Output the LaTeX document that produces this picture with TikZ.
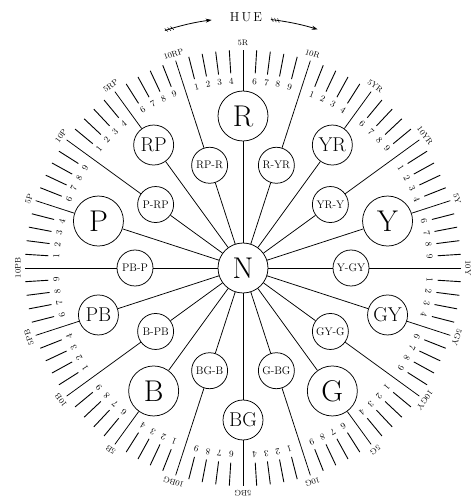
\documentclass[tikz,border=0pt]{standalone}
\usetikzlibrary{arrows.meta,calc}
\begin{document}
\begin{tikzpicture}[x=1pt,y=1pt,line width=0.75pt,
  bigc/.style={circle,draw,minimum size=50pt,inner sep=0pt,font=\fontsize{30}{30}\selectfont},
  midc/.style={circle,draw,minimum size=40pt,inner sep=0pt,font=\fontsize{20}{20}\selectfont},
  smallc/.style={circle,draw,minimum size=36pt,inner sep=0pt,font=\fontsize{11}{11}\selectfont},
  num/.style={font=\fontsize{9}{9}\selectfont,inner sep=0pt},
  lab/.style={font=\fontsize{8}{8}\selectfont,inner sep=0pt},
  tick/.style={line width=0.9pt},
  huearrow/.style={-{Stealth[length=6pt,width=4pt]},line width=0.8pt}]
\useasboundingbox (0,0) rectangle (472,499);
\coordinate (O) at (243,231);
\node[bigc] (N) at (O) {N};
\foreach \hn/\nx/\st [count=\i from 0] in {R/YR/bigc,YR/Y/midc,Y/GY/bigc,GY/G/midc,G/BG/bigc,BG/B/midc,B/PB/bigc,PB/P/midc,P/RP/bigc,RP/R/midc}{
  \pgfmathsetmacro\a{90-36*\i}
  \pgfmathsetmacro\b{\a-18}
  \node[\st] (H\i) at ($(O)+(\a:152)$) {\hn};
  \node[smallc] (I\i) at ($(O)+(\b:108)$) {\hn-\nx};
  \coordinate (HE\i) at ($(O)+(\a:218)$);
  \coordinate (IE\i) at ($(O)+(\b:218)$);
  \draw (N) -- (H\i);
  \draw (H\i) -- (HE\i);
  \draw (N) -- (I\i);
  \draw (I\i) -- (IE\i);
  \node[lab,rotate=\a-90] (L5\i) at ($(O)+(\a:225)$) {5\hn};
  \node[lab,rotate=\b-90] (L10\i) at ($(O)+(\b:225)$) {10\hn};
  \foreach \s in {1,2,3,4,6,7,8,9}{
    \pgfmathsetmacro\c{\a-(\s-5)*3.6}
    \coordinate (TA\i\s) at ($(O)+(\c:195)$);
    \coordinate (TB\i\s) at ($(O)+(\c:218)$);
    \draw[tick] (TA\i\s) -- (TB\i\s);
    \node[num,rotate=\c-90] (NU\i\s) at ($(O)+(\c:187)$) {\s};
  }
}
% HUE heading
\node[font=\fontsize{13}{13}\selectfont] (hue) at (246,482) {H\,U\,E};
\draw[huearrow] ($(O)+(108.2:250)$) arc[start angle=108.2,end angle=97.2,radius=250];
\draw[huearrow] ($(O)+(83.6:250)$) arc[start angle=83.6,end angle=72.6,radius=250];
\foreach \t in {107.6,106.9,106.2,83.0,82.3,81.6}{
  \draw[line width=0.5pt] ($(O)+(\t:248)$) -- ($(O)+(\t+0.5:252)$);
}
\end{tikzpicture}
\end{document}
